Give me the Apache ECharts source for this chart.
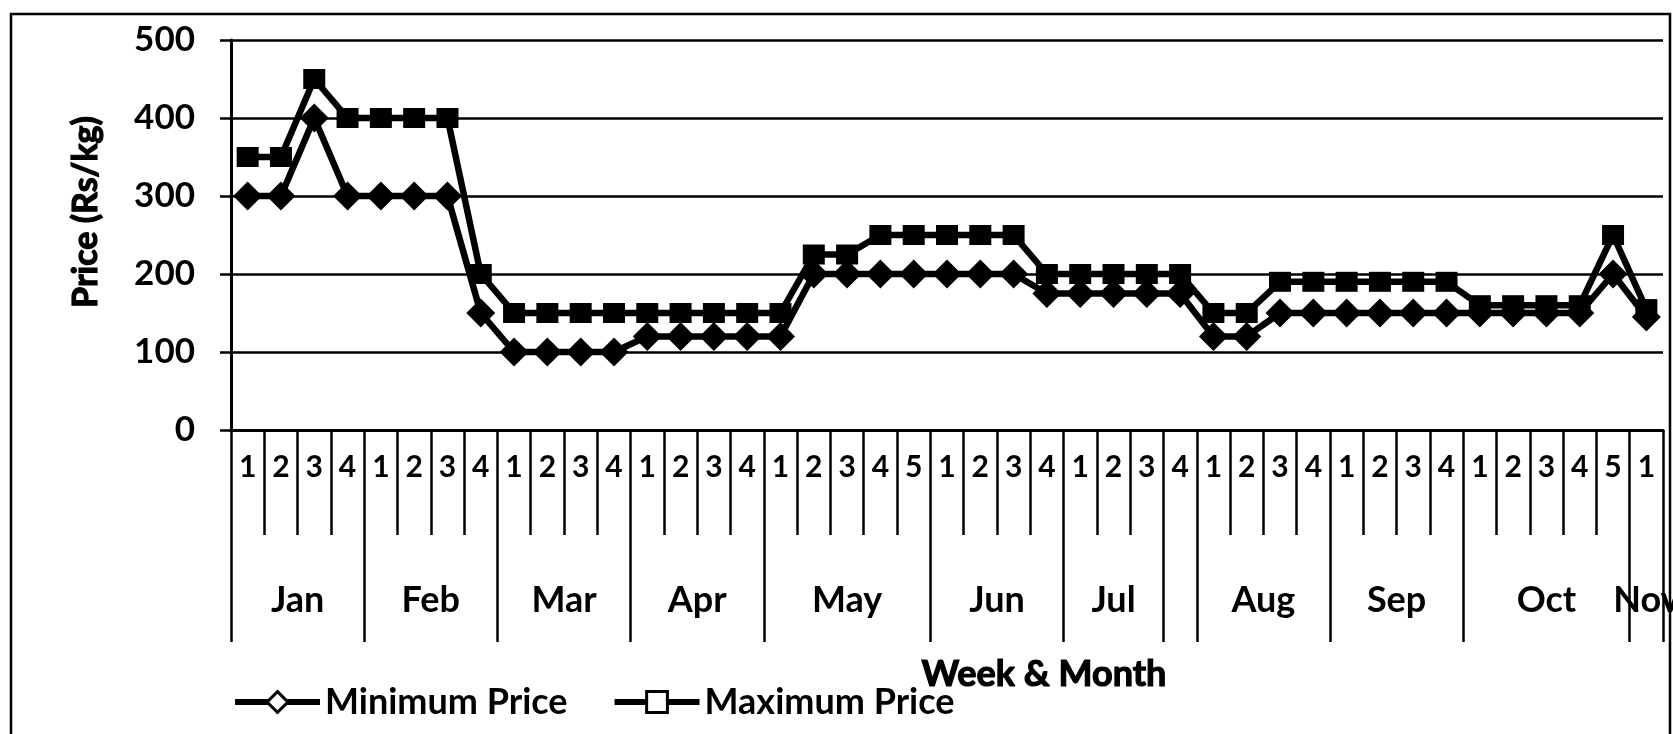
<!DOCTYPE html>
<html>
<head>
<meta charset="utf-8">
<title>Weekly price</title>
<script src="https://cdn.jsdelivr.net/npm/echarts@6/dist/echarts.min.js"></script>
<style>
  html, body { margin: 0; padding: 0; background: #fff; }
  #chart { width: 1673px; height: 734px; }
</style>
</head>
<body>
<div id="chart"></div>
<script>
// Month groups along the time axis and how many weekly readings each holds
const months = ['Jan', 'Feb', 'Mar', 'Apr', 'May', 'Jun', 'Jul', '', 'Aug', 'Sep', 'Oct', 'Nov'];
const weeksPerMonth = [4, 4, 4, 4, 5, 4, 3, 1, 4, 4, 5, 1];

// Week number shown under each reading
const weekLabels = [
  '1', '2', '3', '4',
  '1', '2', '3', '4',
  '1', '2', '3', '4',
  '1', '2', '3', '4',
  '1', '2', '3', '4', '5',
  '1', '2', '3', '4',
  '1', '2', '3',
  '4',
  '1', '2', '3', '4',
  '1', '2', '3', '4',
  '1', '2', '3', '4', '5',
  '1'
];

// Prices in Rs/kg
const minPrice = [
  300, 300, 400, 300,
  300, 300, 300, 150,
  100, 100, 100, 100,
  120, 120, 120, 120,
  120, 200, 200, 200, 200,
  200, 200, 200, 175,
  175, 175, 175,
  175,
  120, 120, 150, 150,
  150, 150, 150, 150,
  150, 150, 150, 150, 200,
  145
];
const maxPrice = [
  350, 350, 450, 400,
  400, 400, 400, 200,
  150, 150, 150, 150,
  150, 150, 150, 150,
  150, 225, 225, 250, 250,
  250, 250, 250, 200,
  200, 200, 200,
  200,
  150, 150, 190, 190,
  190, 190, 190, 190,
  160, 160, 160, 160, 250,
  155
];

// Value axis ticks
const yTicks = [0, 100, 200, 300, 400, 500];

const FONT = 'Lato';
const INK = '#000';

// Per-reading category keys plus month group bookkeeping
const categories = [];
const groupStarts = new Set();
const monthLabelAt = new Map(); // category index -> {name, even}
let start = 0;
months.forEach(function (m, gi) {
  const n = weeksPerMonth[gi];
  groupStarts.add(start);
  for (let k = 0; k < n; k++) {
    categories.push((m || '-') + ' ' + gi + ' ' + weekLabels[start + k]);
  }
  if (m) {
    if (n % 2 === 0) {
      monthLabelAt.set(start + n / 2 - 1, { name: m, even: true });
    } else {
      monthLabelAt.set(start + (n - 1) / 2, { name: m, even: false });
    }
  }
  start += n;
});

const chart = echarts.init(document.getElementById('chart'), null, { renderer: 'canvas' });

const gridLeft = 231, gridRight = 10, gridTop = 40, gridBottom = 304;
const bandWidth = (1673 - gridLeft - gridRight) / categories.length;

// Heavy print look for all lettering
const labelText = { color: INK, fontFamily: FONT, fontWeight: 'bold' };
const titleText = {
  color: INK, fontFamily: FONT, fontWeight: 'bold',
  textBorderColor: INK, textBorderWidth: 1.2
};

chart.setOption({
  animation: false,
  backgroundColor: '#fff',
  textStyle: { fontFamily: FONT, color: INK },
  grid: {
    left: gridLeft, right: gridRight, top: gridTop, bottom: gridBottom,
    containLabel: false, outerBoundsMode: 'none'
  },
  graphic: [{
    type: 'rect',
    shape: { x: 11, y: 14, width: 1659, height: 760 },
    style: { fill: 'none', stroke: INK, lineWidth: 2.5 },
    silent: true
  }],
  legend: {
    left: 232,
    top: 684,
    itemWidth: 85,
    itemHeight: 26,
    itemGap: 44,
    padding: 0,
    textStyle: Object.assign({ fontSize: 36 }, labelText),
    itemStyle: { color: '#fff', borderColor: INK, borderWidth: 3 },
    lineStyle: { color: INK, width: 6 },
    data: ['Minimum Price', 'Maximum Price']
  },
  xAxis: [
    {
      type: 'category',
      data: categories,
      boundaryGap: true,
      axisLine: { show: true, lineStyle: { color: INK, width: 3 } },
      axisTick: { show: true, interval: 0, length: 105, lineStyle: { color: INK, width: 2.5 } },
      axisLabel: Object.assign({
        interval: 0, margin: 22, fontSize: 30,
        formatter: function (v, i) { return weekLabels[i]; }
      }, labelText),
      splitLine: { show: false }
    },
    {
      type: 'category',
      data: categories,
      position: 'bottom',
      boundaryGap: true,
      axisLine: { show: false },
      axisTick: {
        show: true, length: 212, lineStyle: { color: INK, width: 2.5 },
        interval: function (i) { return groupStarts.has(i); }
      },
      axisLabel: Object.assign({
        margin: 152, fontSize: 36,
        interval: function (i) { return monthLabelAt.has(i); },
        formatter: function (v, i) {
          const item = monthLabelAt.get(i);
          if (!item) return '';
          return item.even ? '{e|' + item.name + '}' : '{o|' + item.name + '}';
        },
        rich: {
          e: Object.assign({ fontSize: 36, padding: [0, 0, 0, bandWidth] }, labelText),
          o: Object.assign({ fontSize: 36 }, labelText)
        }
      }, labelText),
      splitLine: { show: false },
      name: 'Week & Month',
      nameLocation: 'middle',
      nameGap: 226,
      nameTextStyle: Object.assign({ fontSize: 36, padding: [0, 0, 0, 194] }, titleText)
    }
  ],
  yAxis: {
    type: 'value',
    min: yTicks[0],
    max: yTicks[yTicks.length - 1],
    interval: yTicks[1] - yTicks[0],
    axisLine: { show: true, lineStyle: { color: INK, width: 3 } },
    axisTick: { show: true, length: 11, lineStyle: { color: INK, width: 2.5 } },
    axisLabel: Object.assign({ margin: 36, fontSize: 35 }, labelText),
    splitLine: { show: true, lineStyle: { color: INK, width: 2.5 } },
    name: 'Price (Rs/kg)',
    nameLocation: 'middle',
    nameGap: 128,
    nameTextStyle: Object.assign({ fontSize: 34, padding: [0, 0, 0, 46] }, titleText)
  },
  series: [
    {
      name: 'Minimum Price',
      type: 'line',
      data: minPrice,
      symbol: 'diamond',
      symbolSize: 29,
      showAllSymbol: true,
      lineStyle: { color: INK, width: 6.5 },
      itemStyle: { color: INK },
      z: 2
    },
    {
      name: 'Maximum Price',
      type: 'line',
      data: maxPrice,
      symbol: 'rect',
      symbolSize: [22, 20],
      showAllSymbol: true,
      lineStyle: { color: INK, width: 6.5 },
      itemStyle: { color: INK },
      z: 3
    }
  ]
});
</script>
</body>
</html>
